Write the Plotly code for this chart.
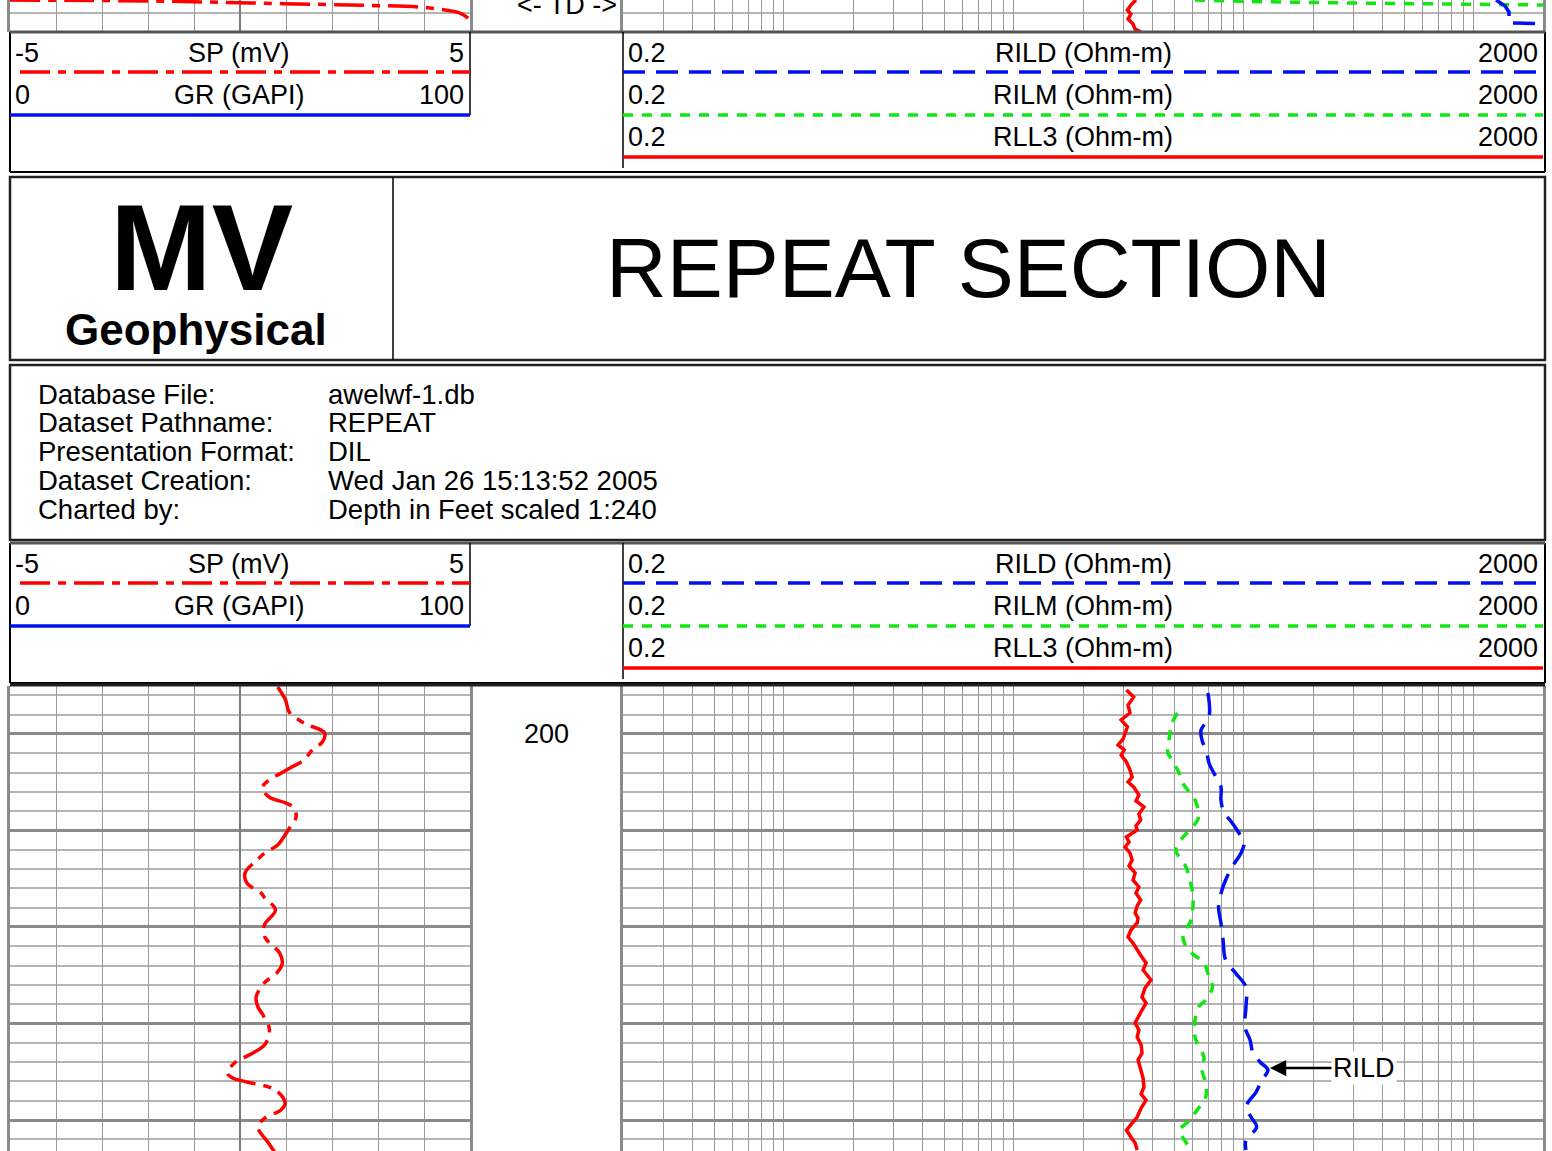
import numpy as np
import plotly.graph_objects as go

W, H = 1552, 1151
FONT = "Liberation Sans, Arial, sans-serif"

# ---- repeat section curves (depth in ft) ----
sp_depth = [195.13, 196.48, 197.72, 198.76, 199.07, 199.90, 200.83, 201.66, 202.69, 203.52,
            204.04, 204.77, 205.60, 206.53, 207.15, 207.56, 208.60, 209.64, 210.67, 211.50,
            212.33, 213.06, 214.40, 215.44, 216.48, 217.00, 218.24, 219.79, 221.04, 222.69,
            223.73, 224.66, 225.80, 227.25, 228.29, 229.12, 230.36, 231.19, 232.23, 233.06,
            234.09, 235.13, 235.65, 236.06, 236.89, 238.24, 238.96, 239.79, 240.73, 242.38, 243.3]
sp_mv = [0.82, 0.99, 1.07, 1.35, 1.48, 1.84, 1.79, 1.57, 1.39, 1.09,
         0.90, 0.63, 0.48, 0.63, 0.99, 1.15, 1.22, 1.09, 0.95, 0.82,
         0.54, 0.37, 0.11, 0.15, 0.46, 0.54, 0.77, 0.53, 0.54, 0.86,
         0.92, 0.82, 0.53, 0.35, 0.39, 0.50, 0.63, 0.63, 0.53, 0.28,
         -0.12, -0.27, -0.16, 0.15, 0.77, 0.98, 0.89, 0.54, 0.39, 0.62, 0.75]

rll3_depth = [195.44, 196.17, 197.0, 197.82, 198.55, 199.27, 199.9, 200.52, 201.14, 201.66,
              202.18, 202.9, 203.73, 204.46, 204.97, 205.49, 206.32, 206.94, 207.56, 208.29,
              208.91, 209.53, 209.95, 210.67, 211.19, 211.71, 212.33, 213.06, 213.68, 214.4,
              215.13, 215.85, 216.48, 217.2, 217.82, 218.55, 219.07, 219.59, 220.31, 221.04,
              221.66, 222.38, 223.01, 223.73, 224.46, 225.49, 226.32, 227.25, 227.88, 228.6,
              229.22, 229.95, 230.67, 231.4, 232.23, 233.06, 233.78, 234.82, 235.65, 236.58,
              237.31, 237.93, 238.76, 239.69, 240.41, 241.04, 241.76, 242.38, 243.11]
rll3_val = [30.9, 33.2, 31.4, 32.0, 29.3, 31.2, 30.5, 29.9, 28.4, 30.2,
            29.3, 30.9, 32.0, 32.7, 31.4, 33.2, 35.0, 34.0, 36.8, 35.0,
            35.6, 34.0, 34.4, 30.9, 31.7, 30.5, 32.0, 32.7, 31.7, 33.7,
            33.0, 35.0, 34.0, 35.6, 34.4, 33.7, 34.7, 34.4, 32.3, 31.4,
            33.0, 34.4, 35.8, 37.6, 36.5, 39.5, 37.2, 36.1, 37.6, 36.1,
            35.0, 33.7, 35.0, 34.4, 35.8, 36.1, 34.7, 35.6, 36.5, 36.8,
            35.8, 37.6, 35.8, 34.4, 32.3, 30.9, 32.3, 33.7, 34.4]

rilm_depth = [197.82, 198.86, 200.62, 201.97, 202.69, 204.04, 204.77, 206.11, 206.84, 208.19,
              208.91, 209.95, 210.67, 212.02, 213.78, 215.13, 216.48, 217.93, 219.59, 220.62,
              221.66, 222.69, 223.73, 225.18, 226.22, 227.56, 228.29, 229.64, 230.98, 232.02,
              233.47, 234.82, 236.17, 237.62, 238.96, 240.0, 241.04, 242.07, 243.11]
rilm_val = [51.5, 48.8, 47.3, 46.8, 48.8, 52.3, 53.3, 58.3, 61.4, 63.7,
            63.0, 58.3, 54.5, 50.7, 56.1, 58.3, 59.9, 60.1, 58.3, 54.5,
            55.2, 59.3, 67.1, 70.6, 73.1, 68.3, 63.7, 61.4, 60.8, 62.7,
            67.1, 65.8, 68.3, 68.3, 62.7, 58.3, 52.8, 55.2, 59.6]

rild_depth = [195.75, 198.24, 199.59, 200.62, 201.87, 203.01, 204.46, 205.49, 206.84, 208.19,
              208.91, 210.26, 211.3, 212.33, 213.78, 215.13, 216.17, 217.93, 219.59, 221.35,
              223.42, 224.77, 226.22, 228.29, 230.36, 231.71, 233.06, 233.99, 234.82, 235.85,
              237.1, 238.65, 239.69, 240.73, 242.07, 243.11]
rild_val = [69.9, 70.6, 65.2, 65.8, 69.0, 70.6, 75.7, 79.6, 79.6, 82.1,
            87.1, 95.3, 100.2, 97.3, 88.9, 83.4, 80.4, 77.7, 79.6, 81.3,
            83.4, 92.1, 102.2, 102.2, 101.2, 106.5, 109.7, 117.7, 127.4, 120.0,
            113.1, 102.2, 107.5, 113.7, 102.2, 102.2]

# ---- bottom of the main log (strip at the top of the page) ----
top_sp_depth = [296.65, 296.75, 296.96, 297.17, 297.38, 297.69, 298.0, 298.52]
top_sp_mv = [-5.0, -1.96, 0.22, 2.39, 3.91, 4.46, 4.78, 4.96]
top_rll3_depth = [296.65, 297.17, 297.69, 298.1, 298.62, 299.14, 299.66, 299.97]
top_rll3_val = [34.0, 32.3, 31.2, 32.3, 31.4, 33.0, 33.7, 35.8]
top_rilm_depth = [296.65, 296.81, 296.96, 297.06, 297.17]
top_rilm_val = [61.4, 106.5, 289.7, 789.0, 2000.0]
top_rild_depth = [296.65, 297.27, 297.89, 299.03, 299.09]
top_rild_val = [1250.0, 1368.0, 1423.0, 1423.0, 2000.0]

log_grid = [m * 10.0 ** e for e in range(-1, 3) for m in range(1, 10) if m * 10.0 ** e > 0.25] + [1000]

info_labels = ["Database File:", "Dataset Pathname:", "Presentation Format:",
               "Dataset Creation:", "Charted by:"]
info_values = ["awelwf-1.db", "REPEAT", "DIL", "Wed Jan 26 15:13:52 2005",
               "Depth in Feet scaled 1:240"]


def X(px):
    return px / W


def Y(py):
    return 1 - py / H


RED, GREEN, BLUE = "#ff0000", "#11e611", "#0010f0"
SP_DASH = "30px,8px,8px,8px"
RILD_DASH = "22px,11px"
RILM_DASH = "10px,9px"

fig = go.Figure()
# bottom tracks
fig.add_trace(go.Scatter(x=sp_mv, y=sp_depth, xaxis="x", yaxis="y", mode="lines",
                         line=dict(color=RED, width=3.5, dash=SP_DASH, shape="spline")))
fig.add_trace(go.Scatter(x=rll3_val, y=rll3_depth, xaxis="x2", yaxis="y2", mode="lines",
                         line=dict(color=RED, width=3.5)))
fig.add_trace(go.Scatter(x=rilm_val, y=rilm_depth, xaxis="x2", yaxis="y2", mode="lines",
                         line=dict(color=GREEN, width=3.5, dash=RILM_DASH, shape="spline")))
fig.add_trace(go.Scatter(x=rild_val, y=rild_depth, xaxis="x2", yaxis="y2", mode="lines",
                         line=dict(color=BLUE, width=3.5, dash=RILD_DASH, shape="spline")))
# top strip
fig.add_trace(go.Scatter(x=top_sp_mv, y=top_sp_depth, xaxis="x3", yaxis="y3", mode="lines",
                         line=dict(color=RED, width=3.5, dash=SP_DASH, shape="spline")))
fig.add_trace(go.Scatter(x=top_rll3_val, y=top_rll3_depth, xaxis="x4", yaxis="y4", mode="lines",
                         line=dict(color=RED, width=3.5)))
fig.add_trace(go.Scatter(x=top_rilm_val, y=top_rilm_depth, xaxis="x4", yaxis="y4", mode="lines",
                         line=dict(color=GREEN, width=3.5, dash=RILM_DASH)))
fig.add_trace(go.Scatter(x=top_rild_val, y=top_rild_depth, xaxis="x4", yaxis="y4", mode="lines",
                         line=dict(color=BLUE, width=3.5, dash=RILD_DASH)))

bot_dom = [0, Y(686)]
top_dom = [Y(32), 1]
left_dom = [X(10), X(470)]
right_dom = [X(623), X(1543)]

lin_x = dict(range=[-5, 5], dtick=1, showgrid=True, gridcolor="#9a9a9a", gridwidth=1,
             zeroline=True, zerolinecolor="#7a7a7a", zerolinewidth=2,
             showticklabels=False, ticks="", showline=False)
log_x = dict(type="log", range=[np.log10(0.2), np.log10(2000)], tickvals=log_grid,
             showgrid=True, gridcolor="#9a9a9a", gridwidth=1, showticklabels=False,
             ticks="", showline=False, zeroline=False)
depth_y = dict(dtick=10, tick0=0, showgrid=True, gridcolor="#8a8a8a", gridwidth=2.5,
               minor=dict(dtick=2, showgrid=True, gridcolor="#b5b5b5", gridwidth=2),
               showticklabels=False, ticks="", zeroline=False,
               showline=True, mirror=True, linecolor="#8a8a8a", linewidth=3)

fig.update_layout(
    xaxis=dict(domain=left_dom, anchor="y", **lin_x),
    yaxis=dict(domain=bot_dom, anchor="x", range=[243.21, 195.03], **depth_y),
    xaxis2=dict(domain=right_dom, anchor="y2", **log_x),
    yaxis2=dict(domain=bot_dom, anchor="x2", range=[243.21, 195.03], **depth_y),
    xaxis3=dict(domain=left_dom, anchor="y3", **lin_x),
    yaxis3=dict(domain=top_dom, anchor="x3", range=[299.96, 296.65], **depth_y),
    xaxis4=dict(domain=right_dom, anchor="y4", **log_x),
    yaxis4=dict(domain=top_dom, anchor="x4", range=[299.96, 296.65], **depth_y),
)

shapes = []


def hline(y, x0, x1, color="black", width=2, dash="solid"):
    shapes.append(dict(type="line", xref="paper", yref="paper", x0=X(x0), x1=X(x1),
                       y0=Y(y), y1=Y(y), line=dict(color=color, width=width, dash=dash)))


def vline(x, y0, y1, color="black", width=2):
    shapes.append(dict(type="line", xref="paper", yref="paper", x0=X(x), x1=X(x),
                       y0=Y(y0), y1=Y(y1), line=dict(color=color, width=width)))


def rect(x0, y0, x1, y1, color="#222", width=2.5):
    shapes.append(dict(type="rect", xref="paper", yref="paper", x0=X(x0), x1=X(x1),
                       y0=Y(y1), y1=Y(y0), line=dict(color=color, width=width)))


annotations = []


def text(s, x, y, size=27, anchor="left", family=FONT, yref="paper", **kw):
    annotations.append(dict(text=s, x=X(x), y=Y(y) if yref == "paper" else y,
                            xref="paper", yref=yref, xanchor=anchor, yanchor="middle",
                            showarrow=False, font=dict(family=family, size=size, color="black"),
                            **kw))


def header(y0):
    # outer box
    vline(10, y0, y0 + 140)
    vline(1545, y0, y0 + 140)
    hline(y0 + 140, 10, 1545)
    hline(y0, 10, 1545, color="#555", width=3)
    # left legend
    vline(470, y0, y0 + 83, width=1.5)
    hline(y0 + 40, 20, 470, color=RED, width=3.5, dash=SP_DASH)
    hline(y0 + 83, 10, 470, color=BLUE, width=3.5)
    text("-5", 13, y0 + 21)
    text("SP (mV)", 239, y0 + 21, anchor="center")
    text("5", 466, y0 + 21, anchor="right")
    text("0", 13, y0 + 63)
    text("GR (GAPI)", 239, y0 + 63, anchor="center")
    text("100", 466, y0 + 63, anchor="right")
    # right legend
    vline(623, y0, y0 + 136, width=1.5)
    hline(y0 + 40, 623, 1543, color=BLUE, width=3.5, dash=RILD_DASH)
    hline(y0 + 83, 623, 1543, color=GREEN, width=3.5, dash=RILM_DASH)
    hline(y0 + 125, 623, 1543, color=RED, width=3.5)
    for i, name in enumerate(["RILD (Ohm-m)", "RILM (Ohm-m)", "RLL3 (Ohm-m)"]):
        yy = y0 + 21 + 42 * i
        text("0.2", 626, yy)
        text(name, 1083, yy, anchor="center")
        text("2000", 1540, yy, anchor="right")


header(32)
header(543)

# title box
rect(10, 177, 1545, 360)
vline(393, 177, 360, width=1.5)
text("<b>MV</b>", 201, 248, size=122, anchor="center")
text("<b>Geophysical</b>", 196, 329, size=44, anchor="center")
text("REPEAT SECTION", 968, 268, size=84, anchor="center")

# info box
rect(10, 365, 1545, 540)
for i, (lab, val) in enumerate(zip(info_labels, info_values)):
    yy = 394 + 28.8 * i
    text(lab, 36, yy, size=27.5)
    text(val, 326, yy, size=27.5)

# plot area top border
hline(685, 10, 1545, color="#222", width=3)

# depth column
text("&lt;- TD -&gt;", 567, 5, size=27, anchor="center")
text("200", 546, 200, anchor="center", yref="y")

# RILD callout
annotations.append(dict(text="RILD", x=np.log10(130), y=234.61, xref="x2", yref="y2",
                        ax=94, ay=0, showarrow=True, arrowhead=2, arrowsize=1.3,
                        arrowwidth=2.5, arrowcolor="black", standoff=0, bgcolor="white",
                        font=dict(family=FONT, size=27, color="black")))

fig.update_layout(
    width=W, height=H, margin=dict(l=0, r=0, t=0, b=0),
    paper_bgcolor="white", plot_bgcolor="white", showlegend=False,
    shapes=shapes, annotations=annotations,
)

# the page would otherwise add the browser's default 8px body margin
fig.write_html("out.html", config={"displayModeBar": False},
               post_script="document.body.style.margin='0px';")
